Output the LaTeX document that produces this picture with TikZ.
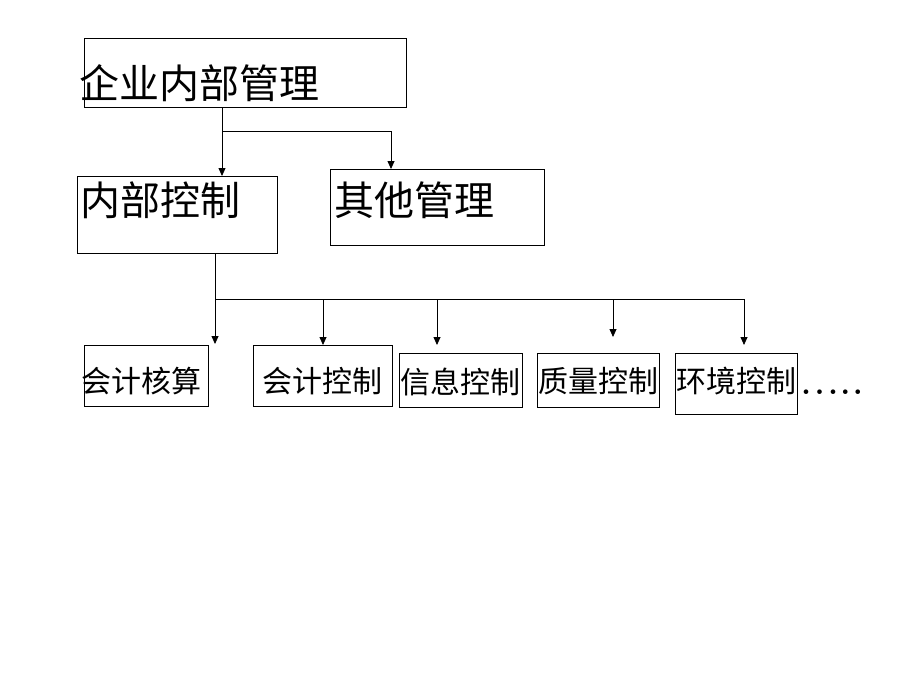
\documentclass[tikz,border=0pt]{standalone}
\usepackage{fontspec}
\newfontfamily\cjk{Noto Sans CJK SC}
\usetikzlibrary{arrows.meta,positioning}

\begin{document}
\begin{tikzpicture}[x=1pt,y=-1pt,
    box/.style={draw, line width=0.8pt, inner sep=0pt, anchor=north west},
    big/.style={inner sep=0pt, anchor=west, font=\cjk\fontsize{40pt}{40pt}\selectfont},
    small/.style={inner sep=0pt, anchor=west, font=\cjk\fontsize{30pt}{30pt}\selectfont},
    link/.style={line width=0.8pt},
    arr/.style={link, -{Triangle[length=8pt,width=7pt]}}]
\useasboundingbox (0,0) rectangle (920,690);

% boxes
\node[box, minimum width=322pt, minimum height=69pt] (mgmt) at (84,38) {};
\node[box, minimum width=200pt, minimum height=77pt] (ictl) at (77,176) {};
\node[box, minimum width=214pt, minimum height=76pt] (other) at (330,169) {};
\node[box, minimum width=124pt, minimum height=61pt] (acct) at (84,345) {};
\node[box, minimum width=139pt, minimum height=61pt] (actl) at (253,345) {};
\node[box, minimum width=123pt, minimum height=54pt] (info) at (399,353) {};
\node[box, minimum width=122pt, minimum height=54pt] (qual) at (537,353) {};
\node[box, minimum width=122pt, minimum height=61pt] (env) at (675,353) {};

% texts
\node[big] (mgmtt) at (79,83.5) {企业内部管理};
\node[big] (ictlt) at (80,200.5) {内部控制};
\node[big] (othert) at (334,200.5) {其他管理};
\node[small] (acctt) at (81,381.5) {会计核算};
\node[small] (actlt) at (262,381.5) {会计控制};
\node[small] (infot) at (400,381.5) {信息控制};
\node[small] (qualt) at (538,381.5) {质量控制};
\node[small] (envt) at (676,381.5) {环境控制};
\node[inner sep=0pt, anchor=base west, font=\bfseries\fontsize{32pt}{32pt}\selectfont] (more) at (801,394)
    {.\hspace{3.5pt}.\hspace{3.5pt}.\hspace{2pt}.\hspace{2.5pt}.};

% upper level
\coordinate (j1) at (222,131);
\coordinate (j2) at (391,131);
\draw[arr] (j1 |- mgmt.south) -- (j1 |- ictl.north);
\draw[arr] (j1) -- (j2) -- (j2 |- other.north);

% lower level
\coordinate (bus) at (215,299);
\coordinate (busend) at (744,299);
\draw[link] (bus |- ictl.south) -- (bus) -- (busend);
\foreach \x/\y in {215/344, 323/345, 437/345, 613/337, 744/345}
    \draw[arr] (\x,299) -- (\x,\y);

\end{tikzpicture}
\end{document}
